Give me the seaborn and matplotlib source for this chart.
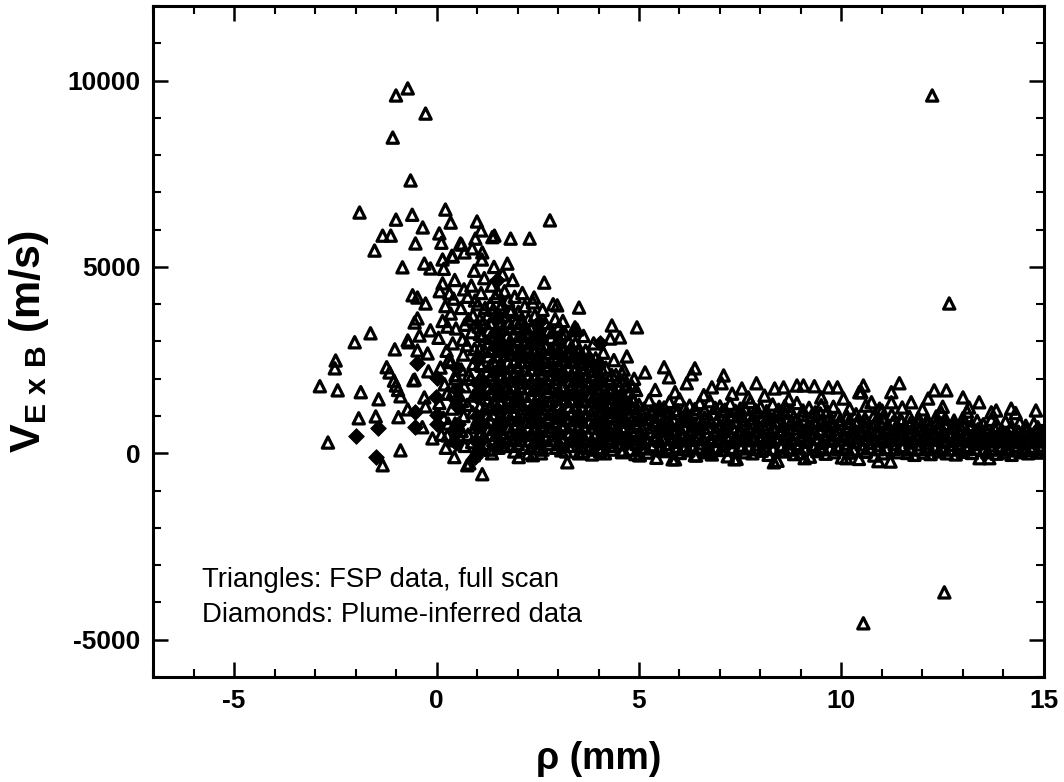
import matplotlib
matplotlib.use("Agg")
import matplotlib.pyplot as plt
from matplotlib.ticker import MultipleLocator, FixedLocator
import seaborn as sns
import pandas as pd

# ---------------- data (rho in mm, V_ExB in m/s) ----------------
tri_outlier = [(-1.0, 9600), (-0.71, 9790), (-0.27, 9115), (-1.08, 8470), (-0.64, 7320),
               (12.24, 9600), (12.66, 4020), (12.54, -3730), (10.54, -4560)]

tri_left = [(-2.02, 2980), (-1.63, 3220), (-2.49, 2490), (-2.51, 2280), (-2.88, 1800),
            (-2.44, 1690), (-1.87, 1640), (-1.43, 1450), (-1.23, 2310), (-1.16, 2170),
            (-1.03, 2790), (-0.69, 2980), (-0.47, 3620), (-0.42, 3160), (-0.57, 1960),
            (-0.89, 1530), (-1.92, 940), (-1.5, 990), (-0.94, 970), (-0.71, 1180),
            (-2.68, 290), (-0.89, 80), (-1.33, -320), (-0.27, 1260), (-0.47, 2760),
            (-0.22, 2680), (-1.0, 1820), (-0.95, 1700), (-1.05, 1950), (-0.54, 3510),
            (-0.47, 4180), (-0.59, 4240), (-0.27, 4020), (-0.71, 3030), (-0.54, 1980),
            (-0.3, 1500), (-0.2, 2200), (-0.15, 3300), (-0.35, 700), (-0.1, 400)]

tri_upper = [(-1.9, 6460), (-1.0, 6270), (-0.6, 6400), (0.22, 6540), (0.35, 6190),
             (1.0, 6220), (2.8, 6250), (-1.33, 5840), (-1.13, 5840), (-1.53, 5440),
             (-0.52, 5630), (-0.34, 6060), (0.07, 5900), (-0.84, 4990), (-0.3, 5090),
             (-0.15, 4960), (0.15, 5200), (0.4, 5280), (1.43, 5840), (1.83, 5760),
             (2.3, 5760), (1.75, 5090), (2.66, 4580), (1.1, 5980), (0.96, 5760),
             (0.59, 5630), (0.69, 5390), (1.13, 5390), (2.41, 4180), (2.98, 3970),
             (3.52, 3910), (0.15, 4560), (0.32, 4290), (4.33, 3430), (4.95, 3380),
             (3.47, 3320), (4.53, 3110), (4.29, 3080), (4.7, 2600), (4.58, 2140),
             (3.42, 3380), (0.81, -270), (1.13, -560), (0.76, -320), (0.27, 480),
             (0.47, 2010)]

tri_core = [
    (0.12, 5650), (0.18, 4950), (0.08, 4350), (0.22, 3950), (0.15, 3550), (0.05, 3100),
    (0.25, 2750), (0.1, 2300), (0.2, 1850), (0.07, 1350), (0.17, 950), (0.12, 500), (0.23, 150),
    (0.38, 5300), (0.45, 4650), (0.42, 4150), (0.35, 3750), (0.48, 3350), (0.4, 2950),
    (0.36, 2450), (0.47, 2100), (0.41, 1650), (0.38, 1200), (0.46, 800), (0.4, 350), (0.44, -100),
    (0.62, 5600), (0.68, 4400), (0.6, 3900), (0.7, 3450), (0.64, 3050), (0.66, 2650),
    (0.61, 2250), (0.69, 1800), (0.63, 1400), (0.67, 1000), (0.62, 600), (0.7, 200),
    (0.88, 5500), (0.93, 4900), (0.86, 4500), (0.95, 4100), (0.9, 3700), (0.87, 3250),
    (0.94, 2800), (0.91, 2400), (0.85, 2000), (0.92, 1550), (0.89, 1100), (0.95, 700),
    (0.88, 300), (0.92, -50),
    (1.12, 5200), (1.18, 4700), (1.1, 4300), (1.2, 3900), (1.15, 3500), (1.13, 3150),
    (1.19, 2750), (1.11, 2350), (1.16, 1950), (1.14, 1600), (1.2, 1200), (1.12, 850),
    (1.17, 450), (1.13, 100),
    (1.38, 5800), (1.42, 5000), (1.36, 4500), (1.45, 4200), (1.4, 3850), (1.37, 3500),
    (1.44, 3150), (1.39, 2800), (1.42, 2450), (1.36, 2100), (1.45, 1750), (1.41, 1400),
    (1.38, 1050), (1.43, 700), (1.4, 350), (1.37, 0),
    (1.63, 4800), (1.68, 4350), (1.62, 4000), (1.7, 3700), (1.65, 3350), (1.61, 3000),
    (1.69, 2650), (1.64, 2300), (1.67, 1950), (1.62, 1600), (1.7, 1250), (1.65, 900),
    (1.63, 550), (1.68, 200),
    (1.88, 4650), (1.93, 4200), (1.86, 3850), (1.95, 3500), (1.9, 3200), (1.87, 2850),
    (1.94, 2500), (1.91, 2150), (1.86, 1800), (1.93, 1450), (1.89, 1100), (1.95, 750),
    (1.88, 400), (1.92, 50),
    (2.12, 4300), (2.18, 3950), (2.1, 3600), (2.2, 3250), (2.15, 2950), (2.11, 2600),
    (2.19, 2250), (2.13, 1900), (2.17, 1550), (2.12, 1200), (2.2, 850), (2.14, 500), (2.18, 150),
    (2.38, 4050), (2.43, 3700), (2.36, 3400), (2.45, 3050), (2.4, 2750), (2.37, 2400),
    (2.44, 2050), (2.39, 1700), (2.42, 1350), (2.36, 1000), (2.45, 650), (2.41, 300), (2.38, -50),
    (2.62, 3850), (2.68, 3500), (2.6, 3150), (2.7, 2850), (2.65, 2500), (2.63, 2150),
    (2.69, 1800), (2.61, 1450), (2.66, 1100), (2.64, 750), (2.7, 400), (2.62, 100),
    (2.88, 4000), (2.93, 3600), (2.86, 3250), (2.95, 2950), (2.9, 2600), (2.87, 2250),
    (2.94, 1900), (2.91, 1550), (2.85, 1200), (2.92, 850), (2.89, 500), (2.95, 150),
    (3.12, 3550), (3.18, 3200), (3.1, 2850), (3.2, 2500), (3.15, 2150), (3.13, 1800),
    (3.19, 1450), (3.11, 1100), (3.16, 750), (3.14, 400), (3.2, 50),
    (3.38, 3300), (3.43, 2950), (3.36, 2600), (3.45, 2300), (3.4, 1950), (3.37, 1600),
    (3.44, 1250), (3.39, 900), (3.42, 550), (3.36, 200),
    (3.63, 3150), (3.68, 2750), (3.6, 2400), (3.7, 2050), (3.65, 1750), (3.61, 1400),
    (3.69, 1050), (3.64, 700), (3.67, 350), (3.62, 50),
    (3.88, 2950), (3.93, 2550), (3.86, 2200), (3.95, 1850), (3.9, 1500), (3.87, 1150),
    (3.94, 800), (3.91, 450), (3.86, 100),
    (4.12, 2700), (4.18, 2300), (4.1, 1950), (4.2, 1600), (4.15, 1250), (4.13, 900),
    (4.19, 600), (4.11, 300), (4.16, 0),
    (4.38, 2500), (4.43, 2100), (4.36, 1750), (4.45, 1400), (4.4, 1100), (4.37, 800),
    (4.44, 500), (4.39, 200),
    (4.62, 2250), (4.68, 1850), (4.6, 1550), (4.7, 1250), (4.65, 950), (4.63, 650),
    (4.69, 350), (4.61, 80),
    (4.88, 2000), (4.93, 1700), (4.86, 1400), (4.95, 1100), (4.9, 800), (4.87, 500),
    (4.94, 250), (4.91, -20),
    (1.27, 3700), (1.29, 3300), (1.25, 2950), (1.28, 2600), (1.26, 2200), (1.3, 1800),
    (1.27, 1450), (1.24, 1050), (1.29, 650), (1.26, 250),
    (1.52, 4300), (1.54, 3650), (1.5, 3300), (1.55, 2950), (1.51, 2600), (1.53, 2250),
    (1.5, 1900), (1.55, 1550), (1.52, 1200), (1.54, 850), (1.5, 500), (1.53, 150),
    (1.77, 4100), (1.79, 3500), (1.75, 3150), (1.8, 2800), (1.76, 2450), (1.78, 2100),
    (1.75, 1750), (1.79, 1400), (1.77, 1050), (1.8, 700), (1.76, 350),
    (2.02, 3800), (2.04, 3400), (2.0, 3050), (2.05, 2700), (2.01, 2350), (2.03, 2000),
    (2.0, 1650), (2.05, 1300), (2.02, 950), (2.04, 600), (2.01, 250), (2.03, -100),
    (2.27, 3600), (2.29, 3200), (2.25, 2850), (2.3, 2450), (2.26, 2100), (2.28, 1750),
    (2.25, 1400), (2.29, 1050), (2.27, 700), (2.3, 350), (2.26, 0),
    (2.52, 3350), (2.54, 2950), (2.5, 2600), (2.55, 2250), (2.51, 1900), (2.53, 1550),
    (2.5, 1200), (2.55, 850), (2.52, 500), (2.54, 150),
    (2.77, 3300), (2.79, 2700), (2.75, 2350), (2.8, 2000), (2.76, 1650), (2.78, 1300),
    (2.75, 950), (2.79, 600), (2.77, 250),
    (3.02, 3400), (3.04, 3050), (3.0, 2700), (3.05, 2350), (3.01, 2000), (3.03, 1650),
    (3.0, 1300), (3.05, 950), (3.02, 600), (3.04, 250),
    (3.27, 3000), (3.29, 2650), (3.25, 2300), (3.3, 1950), (3.26, 1600), (3.28, 1250),
    (3.25, 900), (3.29, 550), (3.27, 200),
    (3.52, 2800), (3.54, 2450), (3.5, 2100), (3.55, 1750), (3.51, 1400), (3.53, 1050),
    (3.5, 700), (3.55, 350), (3.52, 0),
    (3.77, 2600), (3.79, 2250), (3.75, 1900), (3.8, 1550), (3.76, 1200), (3.78, 850),
    (3.75, 500), (3.79, 150),
    (4.02, 2450), (4.04, 2100), (4.0, 1750), (4.05, 1400), (4.01, 1050), (4.03, 700),
    (4.0, 350), (4.04, 50),
    (4.27, 2000), (4.29, 1650), (4.25, 1300), (4.3, 1000), (4.26, 650), (4.28, 300),
    (4.52, 1800), (4.54, 1450), (4.5, 1150), (4.55, 850), (4.51, 550), (4.53, 250),
    (4.77, 1650), (4.79, 1300), (4.75, 1000), (4.8, 700), (4.76, 400), (4.78, 100),
    (0.77, 4200), (0.79, 3600), (0.75, 2900), (0.8, 2100), (0.76, 1300), (0.78, 500),
    (0.27, 3400), (0.3, 2500), (0.26, 1600), (0.29, 800),
    (1.02, 4000), (1.04, 3400), (1.0, 2600), (1.05, 1750), (1.01, 900), (1.03, 150)]

# extra scan columns in the dense core (x position, then its y values)
core2_col_x = [1.07, 1.33, 1.58, 1.83, 2.08, 2.33, 2.58, 2.83, 3.08, 3.33, 3.58, 3.83,
               4.08, 4.33, 4.58, 4.83]
core2_col_y = [[3600, 3200, 2800, 2400, 2000, 1600, 1250, 900, 550, 200],
               [4000, 3500, 3100, 2750, 2350, 2000, 1600, 1250, 850, 500, 100],
               [3900, 3450, 3100, 2750, 2400, 2050, 1700, 1350, 1000, 650, 300],
               [3800, 3350, 3000, 2650, 2300, 1950, 1600, 1250, 900, 550, 200],
               [3500, 3150, 2800, 2450, 2100, 1750, 1400, 1050, 700, 350],
               [3350, 2950, 2600, 2250, 1900, 1550, 1200, 850, 500, 150],
               [3200, 2800, 2450, 2100, 1750, 1400, 1050, 700, 350, 0],
               [3100, 2800, 2450, 2100, 1750, 1400, 1050, 700, 350],
               [3200, 2850, 2500, 2150, 1800, 1450, 1100, 750, 400, 80],
               [2850, 2450, 2100, 1750, 1400, 1050, 700, 350],
               [2650, 2300, 1950, 1600, 1250, 900, 550, 200],
               [2500, 2100, 1750, 1400, 1050, 700, 350],
               [2250, 1850, 1500, 1150, 800, 450, 150],
               [2100, 1700, 1350, 1000, 700, 400, 100],
               [1950, 1600, 1300, 1000, 700, 400],
               [1800, 1500, 1200, 900, 600, 300]]

band_x1 = [5.02, 5.21, 5.43, 5.6, 5.83, 6.01, 6.22, 6.41, 6.63, 6.8, 7.02, 7.19, 7.41, 7.62,
           7.8, 8.03, 8.2, 8.42, 8.61, 8.83, 9.0, 9.22, 9.4, 9.61, 9.82, 10.01, 10.2, 10.43,
           10.6, 10.81, 11.02, 11.21, 11.4, 11.62, 11.8, 12.03, 12.2, 12.41, 12.6, 12.82,
           13.0, 13.22, 13.41, 13.6, 13.83, 14.01, 14.2, 14.42, 14.61, 14.83]
band_y1 = [-50, 20, -120, 60, -160, 10, 80, -60, 40, -30, 90, -80, -150, 30, 0, 70, -40,
           -200, 50, -20, 10, -90, 60, -10, 30, -110, 20, -150, 40, -60, 0, -220, 30, 10,
           -40, 20, -20, 50, 0, -30, 40, 10, -130, 30, -10, 20, -40, 30, 0, 20]
band_x2 = [5.11, 5.32, 5.5, 5.72, 5.9, 6.12, 6.31, 6.52, 6.7, 6.92, 7.1, 7.31, 7.5, 7.71,
           7.92, 8.11, 8.3, 8.52, 8.7, 8.91, 9.12, 9.3, 9.51, 9.72, 9.9, 10.11, 10.32, 10.5,
           10.71, 10.92, 11.1, 11.31, 11.52, 11.7, 11.91, 12.12, 12.3, 12.51, 12.72, 12.9,
           13.11, 13.3, 13.52, 13.71, 13.92, 14.1, 14.32, 14.5, 14.72, 14.93]
band_y2 = [280, 220, 340, 250, 310, 200, 360, 270, 230, 330, 260, 300, 210, 350, 240, 290,
           320, 220, 270, 250, 310, 230, 280, 340, 200, 260, 300, 240, 280, 220, 320, 250,
           200, 290, 240, 270, 210, 300, 230, 260, 200, 250, 280, 220, 190, 240, 200, 260,
           180, 210]
band_x3 = [5.05, 5.26, 5.45, 5.66, 5.86, 6.06, 6.26, 6.46, 6.66, 6.86, 7.06, 7.26, 7.46,
           7.66, 7.86, 8.06, 8.26, 8.46, 8.66, 8.86, 9.06, 9.26, 9.46, 9.66, 9.86, 10.06,
           10.26, 10.46, 10.66, 10.86, 11.06, 11.26, 11.46, 11.66, 11.86, 12.06, 12.26,
           12.46, 12.66, 12.86, 13.06, 13.26, 13.46, 13.66, 13.86, 14.06, 14.26, 14.46,
           14.66, 14.86]
band_y3 = [520, 580, 470, 610, 540, 500, 590, 460, 560, 520, 600, 480, 550, 510, 590, 470,
           540, 580, 500, 560, 480, 530, 590, 500, 540, 470, 560, 510, 490, 550, 460, 520,
           480, 540, 500, 450, 520, 470, 500, 430, 480, 450, 500, 420, 470, 440, 400, 450,
           380, 420]
band_x4 = [5.15, 5.36, 5.56, 5.76, 5.97, 6.17, 6.37, 6.57, 6.77, 6.97, 7.17, 7.37, 7.57,
           7.77, 7.97, 8.17, 8.37, 8.57, 8.77, 8.97, 9.17, 9.37, 9.57, 9.77, 9.97, 10.17,
           10.37, 10.57, 10.77, 10.97, 11.17, 11.37, 11.57, 11.77, 11.97, 12.17, 12.37,
           12.57, 12.77, 12.97, 13.17, 13.37, 13.57, 13.77, 13.97, 14.17, 14.37, 14.57,
           14.77, 14.95]
band_y4 = [780, 850, 720, 820, 760, 880, 740, 800, 860, 710, 790, 840, 750, 820, 700, 780,
           830, 740, 800, 760, 720, 810, 770, 740, 800, 710, 780, 750, 720, 790, 700, 760,
           730, 680, 750, 700, 660, 720, 680, 640, 700, 650, 620, 680, 600, 650, 580, 620,
           560, 600]
band_x5 = [5.08, 5.3, 5.52, 5.74, 5.96, 6.18, 6.4, 6.62, 6.84, 7.06, 7.28, 7.5, 7.72, 7.94,
           8.16, 8.38, 8.6, 8.82, 9.04, 9.26, 9.48, 9.7, 9.92, 10.14, 10.36, 10.58, 10.8,
           11.02, 11.24, 11.46, 11.68, 11.9, 12.12, 12.34, 12.56, 12.78, 13.0, 13.35, 13.7,
           14.05, 14.4, 14.75]
band_y5 = [1050, 1120, 980, 1080, 1150, 1010, 1100, 960, 1060, 1130, 990, 1070, 1020, 1110,
           950, 1040, 1090, 980, 1030, 1000, 1070, 950, 1020, 980, 1050, 930, 1000, 960,
           1040, 920, 980, 950, 900, 990, 930, 880, 950, 870, 900, 850, 820, 800]
band_x6 = [5.0, 5.25, 5.5, 5.75, 6.0, 6.25, 6.5, 6.75, 7.0, 7.25, 7.5, 7.75, 8.0, 8.3, 8.6,
           8.9, 9.2, 9.5, 9.8, 10.2, 10.6, 11.0, 11.5, 12.0, 12.5, 13.1, 13.7, 14.3]
band_y6 = [1300, 1420, 1250, 1380, 1450, 1280, 1350, 1400, 1260, 1330, 1200, 1380, 1240,
           1310, 1270, 1350, 1220, 1290, 1250, 1200, 1280, 1150, 1230, 1180, 1250, 1120,
           1100, 1080]
band_x7 = [5.12, 5.33, 5.52, 5.71, 5.93, 6.11, 6.33, 6.52, 6.72, 6.91, 7.12, 7.3, 7.52, 7.71,
           7.9, 8.13, 8.31, 8.51, 8.72, 8.92, 9.11, 9.31, 9.5, 9.71, 9.92, 10.11, 10.31,
           10.52, 10.71, 10.9, 11.12, 11.3, 11.51, 11.71, 11.9, 12.12, 12.31, 12.5, 12.71,
           12.92, 13.1, 13.31, 13.52, 13.71, 13.92, 14.1, 14.31, 14.52, 14.7, 14.92]
band_y7 = [130, 170, 100, 150, 180, 110, 140, 160, 120, 170, 100, 150, 130, 180, 110, 140,
           120, 160, 100, 150, 130, 170, 110, 140, 120, 160, 100, 130, 150, 110, 140, 120,
           160, 100, 130, 110, 150, 120, 100, 140, 110, 130, 90, 120, 100, 110, 80, 120, 90,
           100]
band_x8 = [5.0, 5.18, 5.38, 5.58, 5.79, 5.98, 6.18, 6.38, 6.58, 6.78, 6.98, 7.18, 7.38, 7.58,
           7.78, 7.98, 8.18, 8.38, 8.58, 8.78, 8.98, 9.18, 9.38, 9.58, 9.78, 9.98, 10.18,
           10.38, 10.58, 10.78, 10.98, 11.18, 11.38, 11.58, 11.78, 11.98, 12.18, 12.38,
           12.58, 12.78, 12.98, 13.18, 13.38, 13.58, 13.78, 13.98, 14.18, 14.38, 14.58,
           14.78]
band_y8 = [400, 380, 420, 390, 410, 370, 430, 400, 380, 410, 390, 420, 370, 400, 430, 380,
           410, 390, 400, 370, 420, 380, 400, 410, 390, 370, 400, 420, 380, 390, 410, 370,
           400, 380, 350, 390, 360, 380, 340, 370, 350, 330, 360, 340, 320, 350, 310, 330,
           300, 320]
band_x9 = [5.09, 5.3, 5.5, 5.7, 5.91, 6.11, 6.3, 6.51, 6.71, 6.9, 7.11, 7.31, 7.5, 7.71,
           7.91, 8.1, 8.31, 8.51, 8.7, 8.91, 9.11, 9.3, 9.51, 9.71, 9.9, 10.11, 10.31, 10.5,
           10.71, 10.91, 11.1, 11.31, 11.51, 11.7, 11.91, 12.11, 12.3, 12.51, 12.71, 12.9,
           13.11, 13.31, 13.5, 13.71, 13.91, 14.1, 14.31, 14.51, 14.7, 14.9]
band_y9 = [650, 700, 620, 680, 640, 710, 630, 670, 690, 610, 660, 700, 640, 680, 620, 660,
           690, 630, 650, 670, 620, 660, 640, 610, 650, 630, 660, 600, 640, 620, 600, 630,
           610, 580, 620, 590, 570, 600, 560, 580, 550, 570, 530, 560, 520, 540, 500, 520,
           480, 500]
band_x10 = [5.2, 5.42, 5.63, 5.85, 6.07, 6.28, 6.5, 6.72, 6.93, 7.15, 7.37, 7.58, 7.8, 8.02,
            8.23, 8.45, 8.67, 8.88, 9.1, 9.32, 9.53, 9.75, 9.97, 10.18, 10.4, 10.62, 10.83,
            11.05, 11.27, 11.48, 11.7, 11.92, 12.13, 12.35, 12.57, 12.78, 13.0, 13.22, 13.5,
            13.85, 14.2, 14.55, 14.85]
band_y10 = [920, 880, 950, 900, 930, 870, 910, 940, 890, 920, 860, 900, 930, 880, 910, 860,
            900, 870, 890, 850, 880, 860, 900, 840, 870, 850, 820, 860, 830, 850, 810, 840,
            800, 820, 790, 810, 780, 760, 780, 740, 720, 740, 700]
band_x11 = [5.12, 5.38, 5.62, 5.88, 6.12, 6.38, 6.62, 6.88, 7.12, 7.38, 7.62, 7.88, 8.15,
            8.45, 8.75, 9.05, 9.35, 9.65]
band_y11 = [1200, 1180, 1230, 1160, 1210, 1190, 1150, 1220, 1170, 1140, 1190, 1160, 1130,
            1170, 1120, 1150, 1100, 1130]

tri_edge = [(5.15, 2170), (5.62, 2310), (5.74, 2040), (6.38, 2280), (6.3, 2120), (7.09, 2090),
            (7.04, 1880), (7.9, 1880), (7.54, 1740), (8.35, 1740), (8.57, 1770), (8.9, 1820),
            (9.06, 1820), (9.33, 1800), (9.68, 1770), (9.9, 1770), (10.44, 1640), (5.89, 1640),
            (6.18, 1880), (6.8, 1770), (10.54, 1820), (10.49, 1640), (11.43, 1880),
            (11.23, 1640), (11.23, 1370), (11.72, 1370), (12.29, 1690), (12.59, 1690),
            (12.14, 1470), (13.0, 1500), (13.4, 1370), (13.15, 1230), (13.82, 1150),
            (14.19, 1200), (14.8, 1150), (10.74, 1370), (10.94, 1200), (12.46, 1100),
            (10.05, 1470), (5.4, 1700), (6.6, 1560), (7.3, 1600), (8.1, 1550), (9.5, 1500),
            (8.7, 1450), (7.7, 1500), (3.23, -240), (3.84, -30), (5.89, -160), (6.72, 30),
            (7.36, -160), (8.33, -240), (9.09, -130), (10.12, -130), (10.91, -210),
            (13.65, -130), (4.16, 480), (4.58, 30), (5.0, -50), (6.38, -50)]

dia_pts = [(-1.99, 460), (-1.45, 670), (-1.5, -110), (-0.47, 2410), (0.02, 2010),
           (-0.02, 1500), (-0.52, 1100), (-0.52, 700), (0.0, 1020), (0.47, 1420),
           (0.47, 290), (0.96, -110), (0.0, 800), (1.5, 4640), (2.54, 3510), (4.04, 2950),
           (0.52, 800), (0.52, 1230),
           (0.5, 600), (0.5, 1700), (0.5, 2300), (1.0, 300), (1.0, 700), (1.0, 1000),
           (1.0, 1500), (1.0, 1900), (1.0, 2500), (1.5, 200), (1.5, 600), (1.5, 1200),
           (1.5, 1800), (1.5, 2200), (1.5, 2800), (1.5, 3200), (1.5, 3700), (2.0, 400),
           (2.0, 900), (2.0, 1400), (2.0, 2000), (2.0, 2600), (2.5, 300), (2.5, 800),
           (2.5, 1300), (2.5, 1800), (2.5, 2400), (2.5, 3100), (3.0, 500), (3.0, 1000),
           (3.0, 1600), (3.0, 2100), (3.0, 2700), (3.5, 400), (3.5, 900), (3.5, 1500),
           (3.5, 2000), (4.0, 300), (4.0, 800), (4.0, 1300), (4.0, 1900), (4.0, 2400),
           (4.5, 500), (4.5, 1000), (4.5, 1500), (5.0, 400), (5.0, 900), (5.5, 600),
           (5.5, 1200), (6.5, 700), (7.6, 400), (8.2, 300)]

legend_lines = ["Triangles: FSP data, full scan", "Diamonds: Plume-inferred data"]

# ---------------- assemble ----------------
tri_pairs = tri_outlier + tri_left + tri_upper + tri_core + tri_edge
tri_x = [p[0] for p in tri_pairs]
tri_y = [p[1] for p in tri_pairs]
for cx, cys in zip(core2_col_x, core2_col_y):
    tri_x += [cx] * len(cys)
    tri_y += cys
for bx, by in [(band_x1, band_y1), (band_x2, band_y2), (band_x3, band_y3),
               (band_x4, band_y4), (band_x5, band_y5), (band_x6, band_y6),
               (band_x7, band_y7), (band_x8, band_y8), (band_x9, band_y9),
               (band_x10, band_y10), (band_x11, band_y11)]:
    tri_x += bx
    tri_y += by
tri_df = pd.DataFrame({"rho": tri_x, "v": tri_y})
dia_df = pd.DataFrame({"rho": [p[0] for p in dia_pts], "v": [p[1] for p in dia_pts]})

# ---------------- plotting ----------------
sns.set_theme(style="ticks")
plt.rcParams["font.family"] = ["Liberation Sans", "DejaVu Sans"]
plt.rcParams["mathtext.fontset"] = "custom"
plt.rcParams["mathtext.rm"] = "Liberation Sans"
plt.rcParams["mathtext.bf"] = "Liberation Sans:bold"
plt.rcParams["axes.unicode_minus"] = False
plt.rcParams["text.color"] = "black"
plt.rcParams["axes.labelcolor"] = "black"
plt.rcParams["xtick.color"] = "black"
plt.rcParams["ytick.color"] = "black"

fig = plt.figure(figsize=(10.64, 7.82), dpi=100)
ax = fig.add_axes([0.1438, 0.1343, 0.8374, 0.858])

sns.scatterplot(data=dia_df, x="rho", y="v", ax=ax, marker="D", s=64,
                color="black", edgecolor="black", linewidth=0.6, zorder=3)
sns.scatterplot(data=tri_df, x="rho", y="v", ax=ax, marker="^", s=66,
                facecolor="none", edgecolor="black", linewidth=2.3, zorder=2)

ax.set_xlim(-7, 15)
ax.set_ylim(-6000, 12000)
ax.xaxis.set_major_locator(FixedLocator([-5, 0, 5, 10, 15]))
ax.xaxis.set_minor_locator(MultipleLocator(1))
ax.yaxis.set_major_locator(FixedLocator([-5000, 0, 5000, 10000]))
ax.yaxis.set_minor_locator(MultipleLocator(1000))
ax.tick_params(which="both", direction="in", top=True, right=True, color="black",
               labelcolor="black")
ax.tick_params(which="major", length=11, width=1.8, pad=9, labelsize=19)
ax.tick_params(which="minor", length=6, width=1.5)
for lab in ax.get_xticklabels() + ax.get_yticklabels():
    lab.set_fontweight("bold")
for sp in ax.spines.values():
    sp.set_linewidth(2.2)
    sp.set_color("black")

ax.set_xlabel("\u03c1 (mm)", fontsize=27, fontweight="bold", labelpad=20, color="black")
ax.set_ylabel(r"$\mathbf{V}_{\mathbf{E\ x\ B}}$ (m/s)", fontsize=31, fontweight="bold",
              labelpad=12, color="black")

ax.text(-5.78, -3400, legend_lines[0], fontsize=19.8, va="center", ha="left", color="black")
ax.text(-5.78, -4350, legend_lines[1], fontsize=19.8, va="center", ha="left", color="black")

fig.savefig("out.png", dpi=100)
